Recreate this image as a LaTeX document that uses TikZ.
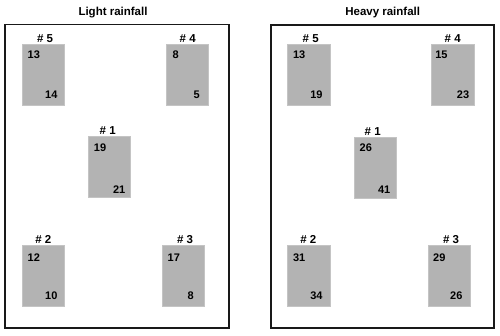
\documentclass[tikz,border=0pt]{standalone}
\usepackage{fontspec}
\setmainfont{Liberation Sans}
\definecolor{plotgray}{HTML}{B3B3B3}
\definecolor{plotedge}{HTML}{C4C4C4}
\begin{document}
\begin{tikzpicture}[x=1pt,y=-1pt,
  frame/.style={draw=black!90, line width=1.8pt, inner sep=0pt},
  plotbox/.style={fill=plotgray, draw=plotedge, line width=0.6pt, minimum width=42pt, minimum height=61pt, inner sep=0pt},
  title/.style={font=\fontsize{11.5}{13}\selectfont\bfseries, inner sep=0pt},
  lbl/.style={font=\fontsize{11.5}{13}\selectfont\bfseries, inner sep=0pt, anchor=base},
  num/.style={font=\fontsize{11}{13}\selectfont\bfseries, inner sep=0pt}]
\useasboundingbox (0,0) rectangle (500,335);
% frames
\node[frame, minimum width=224pt, minimum height=303.5pt] (LF) at (117,276.2-100) {};
\node[frame, minimum width=223.3pt, minimum height=303pt] (RF) at (382.3,176.5) {};
\node[title] (LT) at (113,12.5) {Light rainfall};
\node[title] (RT) at (382.7,12.5) {Heavy rainfall};
% left plots
\node[plotbox] (L5) at (43.3,74.5) {};
\node[plotbox, minimum width=41.6pt] (L4) at (187.5,74.5) {};
\node[plotbox] (L1) at (109.5,167.2) {};
\node[plotbox] (L2) at (43.3,275.3) {};
\node[plotbox] (L3) at (183.7,275.3) {};
\node[lbl] (L5l) at (45,42.5) {\# 5};
\node[lbl] (L4l) at (187.7,42.5) {\# 4};
\node[lbl] (L1l) at (107.7,134.8) {\# 1};
\node[lbl] (L2l) at (43.3,243) {\# 2};
\node[lbl] (L3l) at (185,243.5) {\# 3};
\node[num] (L5a) at (33.8,55) {13};
\node[num] (L5b) at (51.3,94.3) {14};
\node[num] (L4a) at (175.7,55) {8};
\node[num] (L4b) at (196.7,95) {5};
\node[num] (L1a) at (100,147.7) {19};
\node[num] (L1b) at (119.2,190) {21};
\node[num] (L2a) at (33.8,257.3) {12};
\node[num] (L2b) at (51.3,296) {10};
\node[num] (L3a) at (173.8,257.5) {17};
\node[num] (L3b) at (190.7,296) {8};
% right plots
\node[plotbox, minimum width=42.3pt] (R5) at (308.8,74.6) {};
\node[plotbox, minimum width=42.3pt] (R4) at (452.8,74.6) {};
\node[plotbox] (R1) at (375,167.6) {};
\node[plotbox, minimum width=42.3pt] (R2) at (308.8,275.5) {};
\node[plotbox, minimum width=41.7pt] (R3) at (449.2,275.5) {};
\node[lbl] (R5l) at (310.7,42.5) {\# 5};
\node[lbl] (R4l) at (452.7,42.5) {\# 4};
\node[lbl] (R1l) at (372.7,135) {\# 1};
\node[lbl] (R2l) at (308.3,243.5) {\# 2};
\node[lbl] (R3l) at (451,243.5) {\# 3};
\node[num] (R5a) at (299.2,54.7) {13};
\node[num] (R5b) at (316.4,95) {19};
\node[num] (R4a) at (441.4,54.7) {15};
\node[num] (R4b) at (463,95) {23};
\node[num] (R1a) at (365.8,147.7) {26};
\node[num] (R1b) at (384.2,190) {41};
\node[num] (R2a) at (299.2,258) {31};
\node[num] (R2b) at (316.4,296) {34};
\node[num] (R3a) at (439.3,258) {29};
\node[num] (R3b) at (456.3,296) {26};
\end{tikzpicture}
\end{document}
